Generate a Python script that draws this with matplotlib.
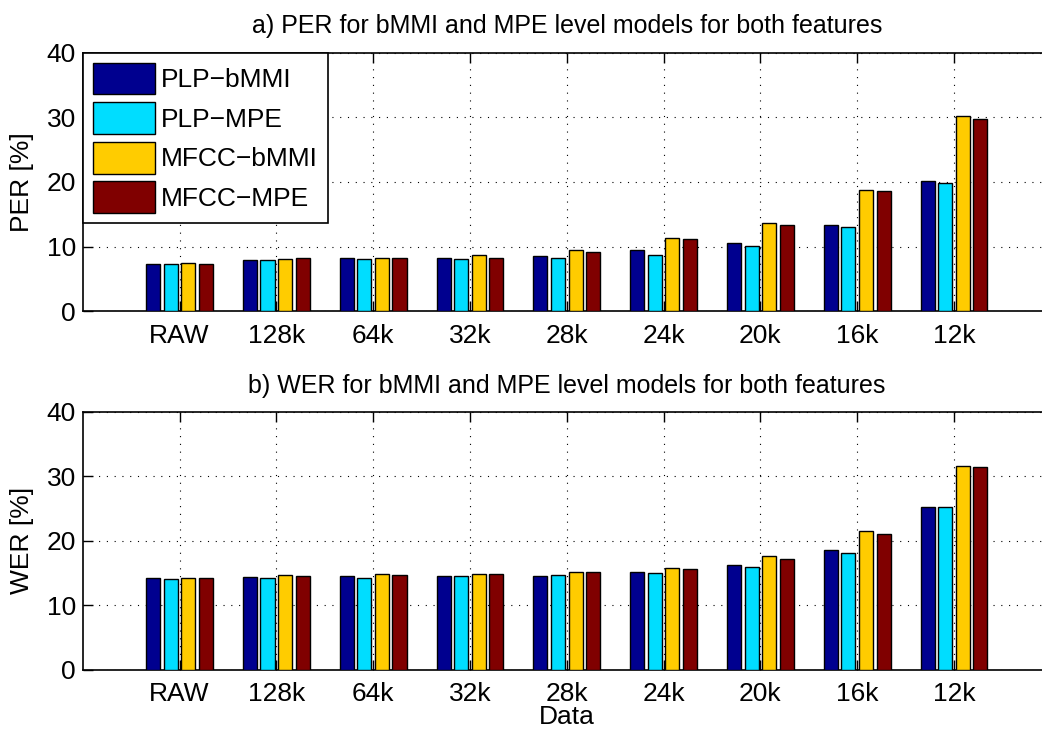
import numpy as np
import matplotlib
matplotlib.use("Agg")
import matplotlib.pyplot as plt

plt.rcParams["font.family"] = ["Liberation Sans", "DejaVu Sans"]

data_labels = ["RAW", "128k", "64k", "32k", "28k", "24k", "20k", "16k", "12k"]
model_names = ["PLP\u2212bMMI", "PLP\u2212MPE", "MFCC\u2212bMMI", "MFCC\u2212MPE"]
colors = ["#00008F", "#00DDFF", "#FFCC00", "#800000"]

# phone error rate [%]
per_plp_bmmi = [7.3, 8.0, 8.2, 8.2, 8.6, 9.4, 10.6, 13.3, 20.2]
per_plp_mpe = [7.3, 7.9, 8.1, 8.1, 8.2, 8.7, 10.1, 13.1, 19.8]
per_mfcc_bmmi = [7.4, 8.1, 8.2, 8.7, 9.4, 11.4, 13.6, 18.7, 30.2]
per_mfcc_mpe = [7.3, 8.2, 8.2, 8.3, 9.2, 11.1, 13.3, 18.6, 29.8]

# word error rate [%]
wer_plp_bmmi = [14.3, 14.4, 14.5, 14.6, 14.6, 15.2, 16.2, 18.6, 25.3]
wer_plp_mpe = [14.1, 14.2, 14.3, 14.5, 14.7, 15.0, 16.0, 18.1, 25.2]
wer_mfcc_bmmi = [14.2, 14.7, 14.8, 14.9, 15.1, 15.8, 17.6, 21.5, 31.6]
wer_mfcc_mpe = [14.3, 14.6, 14.7, 14.8, 15.1, 15.6, 17.2, 21.1, 31.5]

FS = 19
x = np.arange(1, len(data_labels) + 1)
step = 0.1818
width = 0.1455

fig = plt.figure(figsize=(10.42, 7.31), dpi=100)
ax1 = fig.add_axes([0.0794, 0.5742, 0.929, 0.3538])
ax2 = fig.add_axes([0.0794, 0.0839, 0.929, 0.3525])


def draw(ax, series, title, ylabel):
    for i, vals in enumerate(series):
        ax.bar(x + (i - 1.5) * step, vals, width, color=colors[i],
               edgecolor="black", linewidth=1.0, label=model_names[i], zorder=3)
    ax.set_xlim(0, 10)
    ax.set_ylim(0, 40)
    ax.set_xticks(x)
    ax.set_xticklabels(data_labels)
    ax.set_yticks([0, 10, 20, 30, 40])
    ax.tick_params(direction="in", length=7, width=1.0, labelsize=FS,
                   top=True, right=False)
    ax.tick_params(axis="x", pad=9)
    ax.tick_params(axis="y", pad=5)
    ax.grid(True, color="black", linestyle=(0, (1, 6)), linewidth=0.8, zorder=0)
    ax.set_axisbelow(True)
    for s in ax.spines.values():
        s.set_linewidth(1.2)
    ax.spines["right"].set_visible(False)
    ax.set_title(title, fontsize=18, pad=14)
    ax.set_ylabel(ylabel, fontsize=FS, labelpad=9)


draw(ax1, [per_plp_bmmi, per_plp_mpe, per_mfcc_bmmi, per_mfcc_mpe],
     "a) PER for bMMI and MPE level models for both features", "PER [%]")
draw(ax2, [wer_plp_bmmi, wer_plp_mpe, wer_mfcc_bmmi, wer_mfcc_mpe],
     "b) WER for bMMI and MPE level models for both features", "WER [%]")
ax2.set_xlabel("Data", fontsize=FS, labelpad=-1)

leg = ax1.legend(loc="upper left", bbox_to_anchor=(0, 1), borderaxespad=0,
                 fontsize=FS, fancybox=False, framealpha=1, edgecolor="black",
                 handlelength=2.35, handleheight=1.47, handletextpad=0.25,
                 labelspacing=0.3, borderpad=0.38)
leg.get_frame().set_linewidth(1.2)

fig.savefig("out.png", dpi=100)
